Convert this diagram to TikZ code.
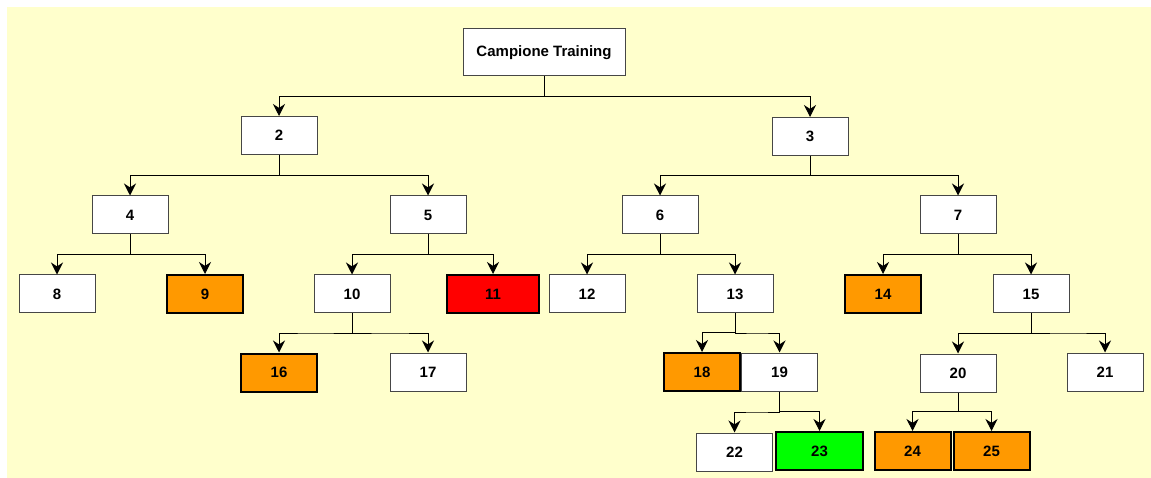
\documentclass[tikz,border=0pt]{standalone}
\usepackage{fontspec}
\setmainfont{Liberation Sans}
\usetikzlibrary{arrows.meta, positioning, calc}
\definecolor{bgyellow}{RGB}{255,255,204}
\definecolor{leaforange}{RGB}{255,153,0}
\definecolor{leafred}{RGB}{255,0,0}
\definecolor{leafgreen}{RGB}{0,255,0}
\definecolor{edgegray}{RGB}{70,70,70}
\tikzset{
  box/.style  = {draw=edgegray, line width=1pt, fill=white, inner sep=0pt,
                 minimum width=76pt, minimum height=38pt,
                 font=\bfseries\fontsize{15}{17}\selectfont},
  hbox/.style = {box, draw=black, line width=2pt},
  conn/.style = {-{Stealth[length=12pt, width=12pt]}, line width=1pt, draw=black},
}

\begin{document}
\begin{tikzpicture}[x=1pt, y=-1pt]
  \useasboundingbox (0,0) rectangle (1151,478);
  \fill[bgyellow] (7,7) rectangle (1151,478);

  % root and first levels
  \node[box, minimum width=162pt, minimum height=47pt] (root) at (544,52.5) {Campione Training};
  \node[box] (n2) at (279,135.5) {2};
  \node[box] (n3) at (810,136.5) {3};
  \node[box] (n4) at (130,215) {4};
  \node[box] (n5) at (428,215) {5};
  \node[box] (n6) at (660,215) {6};
  \node[box] (n7) at (958,215) {7};

  % row of leaves and inner nodes
  \node[box] (n8) at (57,294) {8};
  \node[hbox, fill=leaforange] (n9) at (205,294) {9};
  \node[box] (n10) at (352,294) {10};
  \node[hbox, fill=leafred, minimum width=92pt] (n11) at (493,294) {11};
  \node[box] (n12) at (587,294) {12};
  \node[box] (n13) at (735,294) {13};
  \node[hbox, fill=leaforange] (n14) at (883,294) {14};
  \node[box] (n15) at (1031,294) {15};

  \node[hbox, fill=leaforange] (n16) at (279,372.5) {16};
  \node[box] (n17) at (428,372) {17};
  \node[hbox, fill=leaforange] (n18) at (702,372) {18};
  \node[box] (n19) at (779.5,372) {19};
  \node[box] (n20) at (958,373) {20};
  \node[box] (n21) at (1105,372) {21};

  \node[box] (n22) at (734.5,452) {22};
  \node[hbox, fill=leafgreen, minimum width=87pt] (n23) at (819.5,451) {23};
  \node[hbox, fill=leaforange] (n24) at (912.5,451) {24};
  \node[hbox, fill=leaforange] (n25) at (991.5,451) {25};

  % connectors
  \foreach \p/\c in {root/n2, root/n3, n2/n4, n2/n5, n3/n6, n3/n7,
                     n4/n8, n4/n9, n5/n10, n5/n11, n6/n12, n6/n13,
                     n7/n14, n7/n15, n10/n16, n10/n17, n13/n18, n13/n19,
                     n15/n20, n15/n21, n19/n22, n19/n23, n20/n24, n20/n25}
    \draw[conn] (\p.south) |- ($(\p.south)!.5!(\c.north)$) -| (\c.north);
\end{tikzpicture}
\end{document}
